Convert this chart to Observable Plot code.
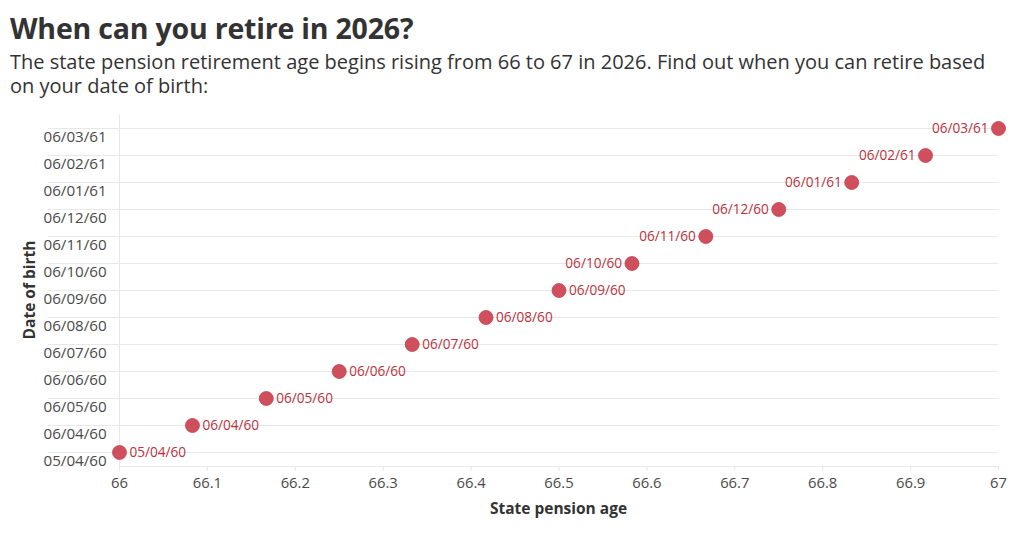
<!DOCTYPE html>
<html>
<head>
<meta charset="utf-8">
<script src="https://cdn.jsdelivr.net/npm/d3@7"></script>
<script src="https://cdn.jsdelivr.net/npm/@observablehq/plot@0.6"></script>
<style>
  html, body { margin: 0; padding: 0; background: #fff; }
  body { width: 1020px; height: 539px; overflow: hidden; font-family: "Open Sans", sans-serif; }
  #title { margin: 0; padding: 10px 0 0 10px; font-family: "Open Sans", sans-serif; font-weight: 700; font-size: 28.5px; color: #333; line-height: 36px; letter-spacing: -0.2px; }
  #subtitle { margin: 0; padding: 4px 0 0 10px; width: 985px; font-family: "Open Sans", sans-serif; font-size: 20px; line-height: 24px; color: #333; }
  #chart { position: absolute; left: 0; top: 104px; }
</style>
</head>
<body>
<div id="title">When can you retire in 2026?</div>
<div id="subtitle">The state pension retirement age begins rising from 66 to 67 in 2026. Find out when you can retire based on your date of birth:</div>
<div id="chart"></div>
<script>
const birthDates = ["05/04/60", "06/04/60", "06/05/60", "06/06/60", "06/07/60", "06/08/60", "06/09/60", "06/10/60", "06/11/60", "06/12/60", "06/01/61", "06/02/61", "06/03/61"];
const pensionAges = [66, 66.083, 66.167, 66.25, 66.333, 66.417, 66.5, 66.583, 66.667, 66.75, 66.833, 66.917, 67];
const xTicks = [66, 66.1, 66.2, 66.3, 66.4, 66.5, 66.6, 66.7, 66.8, 66.9, 67];

const data = birthDates.map((d, i) => ({date: d, age: pensionAges[i]}));
const rightLabels = data.filter(d => d.age <= 66.5);
const leftLabels = data.filter(d => d.age > 66.5);

const pointColor = "#cf4f5d";
const labelColor = "#b83240";
const gridColor = "#e8e8e8";

const chart = Plot.plot({
  width: 1020,
  height: 435,
  marginTop: 10,
  marginBottom: 73,
  marginLeft: 119,
  marginRight: 22,
  style: {fontFamily: "'Open Sans', sans-serif", fontSize: "13px", color: "#444"},
  x: {domain: [66, 67], ticks: xTicks, label: null},
  y: {type: "point", domain: [...birthDates].reverse(), padding: 0.5, label: null},
  marks: [
    Plot.gridY({stroke: gridColor, strokeOpacity: 1}),
    Plot.axisY({tickSize: 71, stroke: gridColor, strokeOpacity: 1, text: null}),
    Plot.axisY({tickSize: 0, textAnchor: "start", dx: -67, dy: 9, fill: "#4a4a4a", fontSize: 15.2, label: null}),
    Plot.ruleX([66], {stroke: gridColor, y1: null, y2: null}),
    Plot.frame({anchor: "bottom", stroke: gridColor, strokeOpacity: 1}),
    Plot.axisX({ticks: xTicks, tickSize: 5, stroke: gridColor, strokeOpacity: 1, fill: "#4a4a4a", fontSize: 14.8, tickPadding: 6, tickFormat: d => String(+d.toFixed(1)), label: null}),
    Plot.dot(data, {x: "age", y: "date", r: 7, fill: pointColor, stroke: "#c04452", strokeWidth: 0.8}),
    Plot.text(rightLabels, {x: "age", y: "date", text: "date", textAnchor: "start", dx: 10, fill: labelColor, fontSize: 13.6}),
    Plot.text(leftLabels, {x: "age", y: "date", text: "date", textAnchor: "end", dx: -10, fill: labelColor, fontSize: 13.6})
  ]
});

const svg = d3.select(chart);
svg.append("text")
  .attr("x", 558.5).attr("y", 410)
  .attr("text-anchor", "middle")
  .attr("font-family", "'Open Sans', sans-serif")
  .attr("font-weight", 700).attr("font-size", 15.5).attr("fill", "#333")
  .text("State pension age");
svg.append("text")
  .attr("transform", "translate(35,186) rotate(-90)")
  .attr("text-anchor", "middle")
  .attr("font-family", "'Open Sans', sans-serif")
  .attr("font-weight", 700).attr("font-size", 15.5).attr("fill", "#333")
  .text("Date of birth");

document.getElementById("chart").appendChild(chart);
</script>
</body>
</html>
